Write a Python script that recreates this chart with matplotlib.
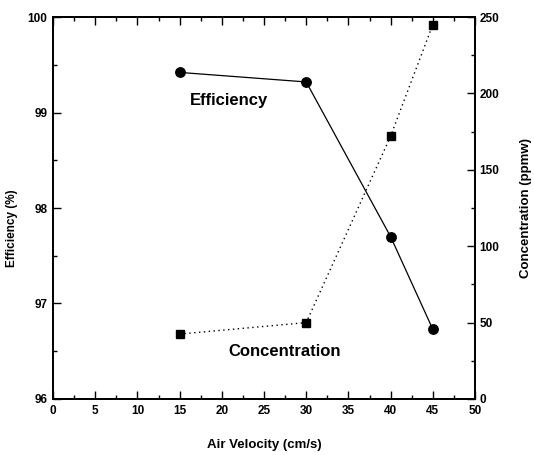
import numpy as np
import matplotlib
matplotlib.use('Agg')
import matplotlib.pyplot as plt
from matplotlib.ticker import MultipleLocator

plt.rcParams['font.family'] = ['Liberation Sans', 'DejaVu Sans']
plt.rcParams['font.weight'] = 'bold'
plt.rcParams['axes.labelweight'] = 'bold'

# data
velocity = [15, 30, 40, 45]
efficiency = [99.42, 99.32, 97.70, 96.73]
concentration = [42.5, 50, 172, 245]

fig = plt.figure(figsize=(5.34, 4.55), dpi=100)
ax = fig.add_axes([0.0993, 0.1231, 0.7902, 0.8395])
ax2 = ax.twinx()

ax.plot(velocity, efficiency, color='black', lw=0.9, marker='o', ms=6.8, zorder=3)
ax2.plot(velocity, concentration, color='black', lw=1.0, ls=(0, (1, 2.5)),
         marker='s', ms=5.6)

ax.set_xlim(0, 50)
ax.set_ylim(96, 100)
ax2.set_ylim(0, 250)

ax.xaxis.set_major_locator(MultipleLocator(5))
ax.xaxis.set_minor_locator(MultipleLocator(2.5))
ax.yaxis.set_major_locator(MultipleLocator(1))
ax.yaxis.set_minor_locator(MultipleLocator(0.5))
ax2.yaxis.set_major_locator(MultipleLocator(50))
ax2.yaxis.set_minor_locator(MultipleLocator(25))

ax.tick_params(which='both', direction='in', top=True, right=False, labelsize=8.5, width=1.0)
ax.tick_params(which='major', length=6, pad=4)
ax.tick_params(which='minor', length=3)
ax2.tick_params(which='both', direction='in', labelsize=8.5, width=1.0)
ax2.tick_params(which='major', length=6, pad=3)
ax2.tick_params(which='minor', length=3)

for a in (ax, ax2):
    for s in a.spines.values():
        s.set_linewidth(1.3)

ax.set_xlabel('Air Velocity (cm/s)', fontsize=9.5, labelpad=16)
ax.set_ylabel('Efficiency (%)', fontsize=8.5)
ax.yaxis.set_label_coords(-0.083, 0.448)
ax2.set_ylabel('Concentration (ppmw)', fontsize=9.5, rotation=90)
ax2.yaxis.set_label_coords(1.107, 0.5)

ax.text(20.8, 99.13, 'Efficiency', fontsize=12, ha='center', va='center')
ax.text(27.4, 96.50, 'Concentration', fontsize=12, ha='center', va='center')

fig.savefig('out.png', dpi=100)
